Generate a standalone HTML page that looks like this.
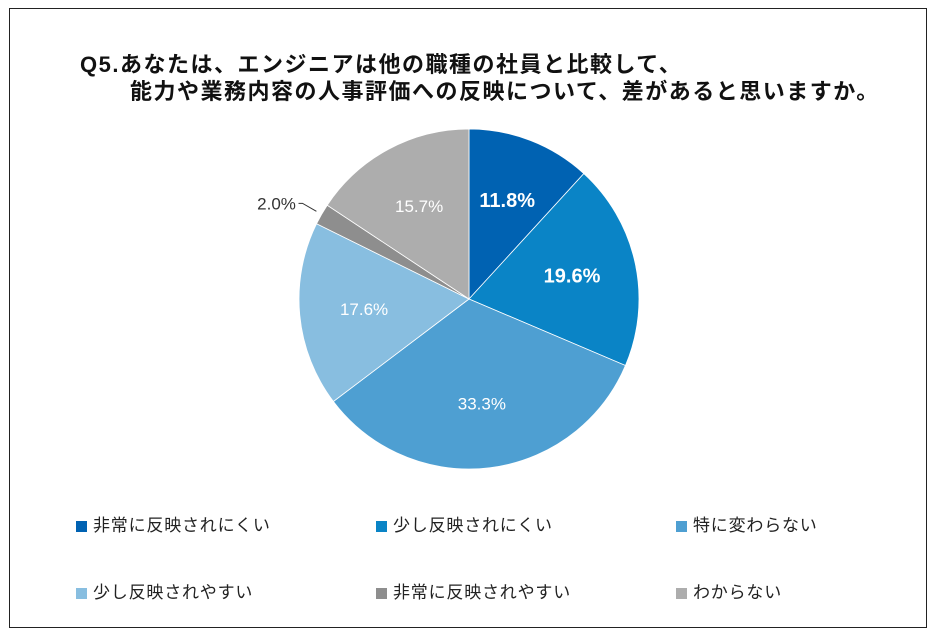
<!DOCTYPE html>
<html><head><meta charset="utf-8"><style>
body{margin:0;width:939px;height:643px;background:#fff;font-family:"Liberation Sans","Noto Sans CJK JP",sans-serif;position:relative;overflow:hidden}
#frame{position:absolute;left:9px;top:8px;width:918px;height:620px;border:1.5px solid #222;box-sizing:border-box}
.t{position:absolute;font-weight:bold;font-size:22px;letter-spacing:1.5px;color:#111;white-space:nowrap}
.lg{position:absolute;font-size:17px;letter-spacing:0.8px;color:#222;white-space:nowrap}
.lg span{display:inline-block;width:11px;height:11px;margin-right:6px;vertical-align:-1px}
</style></head><body>
<div id="frame"></div>
<div class="t" style="left:80px;top:47px">Q5.あなたは、エンジニアは他の職種の社員と比較して、</div>
<div class="t" style="left:130px;top:74px">能力や業務内容の人事評価への反映について、差があると思いますか。</div>
<svg id="pie" width="939" height="643" style="position:absolute;left:0;top:0"></svg>
<div id="legend"></div>
<script>
const categories=["非常に反映されにくい","少し反映されにくい","特に変わらない","少し反映されやすい","非常に反映されやすい","わからない"];
const values=[11.8,19.6,33.3,17.6,2.0,15.7];
const colors=["#0062B2","#0A84C6","#4E9FD2","#88BEE0","#8E8E8E","#ADADAD"];
const cx=469,cy=299,r=170;
const svg=document.getElementById('pie');const NS="http://www.w3.org/2000/svg";
const total=values.reduce((a,b)=>a+b,0);
let a0=0;
const labelStyle=[{c:"#fff",s:20,b:true},{c:"#fff",s:20,b:true},{c:"#fff",s:17,b:false},{c:"#fff",s:17,b:false},{c:"#333",s:17,b:false},{c:"#fff",s:17,b:false}];
function pt(a,rr){return [cx+rr*Math.sin(a),cy-rr*Math.cos(a)];}
values.forEach((v,i)=>{
  const a1=a0+v/total*2*Math.PI;
  const p0=pt(a0,r),p1=pt(a1,r);
  const path=document.createElementNS(NS,'path');
  path.setAttribute('d',`M${cx},${cy}L${p0[0]},${p0[1]}A${r},${r} 0 ${a1-a0>Math.PI?1:0} 1 ${p1[0]},${p1[1]}Z`);
  path.setAttribute('fill',colors[i]);path.setAttribute('stroke','#fff');path.setAttribute('stroke-width','0.8');
  
  
  svg.appendChild(path);
  const am=(a0+a1)/2;
  const t=document.createElementNS(NS,'text');
  let lp;
  if(v<5){
    const e=pt(am,r+6),q=pt(am,r+22);
    const ln=document.createElementNS(NS,'polyline');
    ln.setAttribute('points',`${e[0]},${e[1]} ${q[0]},${q[1]} ${q[0]-4},${q[1]}`);
    ln.setAttribute('fill','none');ln.setAttribute('stroke','#333');
    
    
    svg.appendChild(ln);
    lp=[q[0]-26,q[1]];
  } else lp=pt(am,r*0.62);
  t.setAttribute('x',lp[0]);t.setAttribute('y',lp[1]+6);t.setAttribute('text-anchor','middle');
  t.setAttribute('fill',labelStyle[i].c);t.setAttribute('font-size',labelStyle[i].s);
  if(labelStyle[i].b)t.setAttribute('font-weight','bold');
  t.setAttribute('font-family','"Liberation Sans",sans-serif');
  t.textContent=v.toFixed(1)+'%';
  
  
  svg.appendChild(t);
  a0=a1;
});
const lg=document.getElementById('legend');
categories.forEach((c,i)=>{
  const d=document.createElement('div');d.className='lg';
  d.style.left=(76+300*(i%3))+'px';d.style.top=(511+67*Math.floor(i/3))+'px';
  d.innerHTML=`<span style="background:${colors[i]}"></span>${c}`;
  
  
  lg.appendChild(d);
});
</script>
</body></html>
